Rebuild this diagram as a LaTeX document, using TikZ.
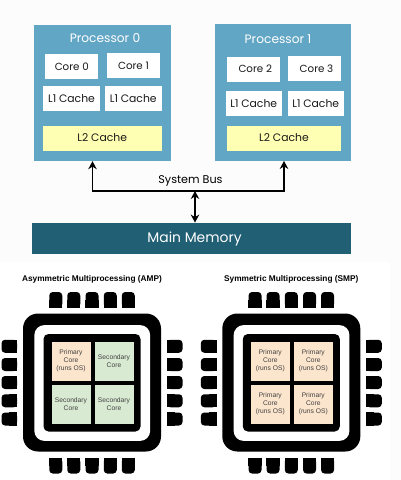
\documentclass[tikz,border=0pt]{standalone}
\usepackage{fontspec}
\setmainfont{Poppins}
\newfontfamily\arialfont{Liberation Sans}
\usetikzlibrary{arrows,arrows.meta,shapes}
\definecolor{procblue}{HTML}{62A6C5}
\definecolor{memteal}{HTML}{215F75}
\definecolor{cacheyellow}{HTML}{FFFFB3}
\definecolor{primarypeach}{HTML}{FCE5CD}
\definecolor{secondarygreen}{HTML}{D9EAD3}
\tikzstyle{block}=[rectangle,inner sep=0pt,font=\fontsize{10.8}{13}\selectfont,text=black!90]
\tikzstyle{processor} = [block, fill=procblue, minimum width=136.5pt, minimum height=136.5pt]
\tikzstyle{core} = [block, fill=white, minimum width=53pt, minimum height=25pt, font=\fontsize{10.3}{12}\selectfont]
\tikzstyle{l1 cache} = [block, fill=white, minimum width=56.5pt, minimum height=25pt]
\tikzstyle{l2 cache} = [block, fill=cacheyellow, minimum height=25pt]
\tikzstyle{proc title} = [block, text=white, font=\fontsize{12.2}{14}\selectfont]
\tikzstyle{bus} = [draw,line width=1.1pt,-,>={Stealth[length=8pt,width=8.5pt]}]
\tikzstyle{chip part}=[rectangle,inner sep=0pt,fill=black]
\tikzstyle{pin}=[chip part,rounded corners=3.5pt]
\tikzstyle{pin h}=[pin,minimum width=15.5pt,minimum height=13pt]
\tikzstyle{pin v}=[pin,minimum width=13pt,minimum height=15.5pt]
\tikzstyle{chip cell}=[rectangle,inner sep=0pt,minimum width=39pt,minimum height=38.5pt,align=center,text=black!75,font=\arialfont\fontsize{6.7}{8}\selectfont]
\tikzstyle{primary core}=[chip cell,fill=primarypeach]
\tikzstyle{secondary core}=[chip cell,fill=secondarygreen]
\tikzstyle{chip title}=[inner sep=0pt,font=\arialfont\bfseries\fontsize{8.3}{10}\selectfont]
\def\primarylabel{Primary\\Core\\(runs OS)}
\def\secondarylabel{Secondary\\Core}

\begin{document}
\begin{tikzpicture}[x=1pt,y=-1pt]
    \useasboundingbox (0,0) rectangle (401,480);
    \fill[black!1] (0,0) rectangle (401,480);
    \fill[white] (0,262) rectangle (390,480);

    % First we draw the two processors and the memory
    \foreach \pos/\name in {{(102.25,92.75)/proc0}, {(282.75,92.5)/proc1}}
        \node[processor] (\name) at \pos {};
    \node[proc title] (title0) at (105,38.5) {Processor 0};
    \node[proc title] (title1) at (278,39) {Processor 1};
    \node[block,fill=memteal,text=white,minimum width=319pt,minimum height=31.5pt,font=\fontsize{13.9}{16}\selectfont] (memory) at (191.5,238.5) {\hspace{6pt}Main Memory};

    % Cores and caches
    \foreach \pos/\name/\label in {{(71.75,66.5)/core0/Core 0}, {(133.5,65.5)/core1/Core 1}, {(253.25,69)/core2/\hspace{4pt}Core 2}, {(314.5,68.5)/core3/\hspace{4pt}Core 3}}
        \node[core] (\name) at \pos {\label};
    \foreach \pos/\name in {{(71.5,98.5)/l1a}, {(133.25,98.5)/l1b}, {(253.75,103.5)/l1c}, {(315.75,103.5)/l1d}}
        \node[l1 cache] (\name) at \pos {L1 Cache};
    \node[l2 cache,minimum width=118.5pt] (l2a) at (102.25,138) {L2 Cache};
    \node[l2 cache,minimum width=114pt] (l2b) at (284,138) {L2 Cache};

    % Connect processors and memory with the bus
    \coordinate (busleft) at (92.5,191);
    \coordinate (busmid) at (195,191);
    \coordinate (busright) at (284,191);
    \path[bus,<->] (proc0.south -| busleft) -- (busleft) -- (busright) -- (proc1.south -| busright);
    \path[bus,<->] (busmid) -- (memory.north -| busmid);
    \node[block,fill=none,text=black,font=\fontsize{11.2}{13}\selectfont] (buslabel) at (190.5,181) {System Bus};

    % Now the two chips
    \foreach \dx/\chip/\label in {0/amp/Asymmetric Multiprocessing (AMP), 199.3/smp/Symmetric Multiprocessing (SMP)} {
        \node[chip title] (\chip title) at (92+\dx,279.7) {\label};
        \node[chip part,minimum size=138pt,rounded corners=15pt] (\chip outer) at (92+\dx,382.5) {};
        \node[chip part,fill=white,minimum size=115.8pt,rounded corners=10pt] (\chip ring) at (92.25+\dx,383) {};
        \node[chip part,minimum width=97pt,minimum height=97.5pt,rounded corners=5pt] (\chip inner) at (92+\dx,382.75) {};
        % the pins are only round on their outer end
        \foreach \i/\x in {1/55.75, 2/73.75, 3/92, 4/110.25, 5/128.25} {
            \node[pin v] (\chip top\i) at (\x+\dx,299.75) {};
            \fill (\chip top\i.west) rectangle (\chip top\i.south east);
            \node[pin v] (\chip bot\i) at (\x+\dx,465.75) {};
            \fill (\chip bot\i.west) rectangle (\chip bot\i.north east);
        }
        \foreach \i/\y in {1/346.25, 2/364.5, 3/382.5, 4/400.75, 5/419} {
            \node[pin h] (\chip left\i) at (9.25+\dx,\y) {};
            \fill (\chip left\i.north) rectangle (\chip left\i.south east);
            \node[pin h] (\chip right\i) at (174.75+\dx,\y) {};
            \fill (\chip right\i.north) rectangle (\chip right\i.south west);
        }
    }

    % Cells inside the chips
    \foreach \pos/\name/\kind/\label in {{(71,361.25)/amp1/primary core/\primarylabel}, {(114,361.25)/amp2/secondary core/\secondarylabel}, {(71,404.25)/amp3/secondary core/\secondarylabel}, {(114,404.25)/amp4/secondary core/\secondarylabel}, {(270.3,361.25)/smp1/primary core/\primarylabel}, {(313.3,361.25)/smp2/primary core/\primarylabel}, {(270.3,404.25)/smp3/primary core/\primarylabel}, {(313.3,404.25)/smp4/primary core/\primarylabel}}
        \node[\kind] (\name) at \pos {\label};
\end{tikzpicture}
\end{document}
